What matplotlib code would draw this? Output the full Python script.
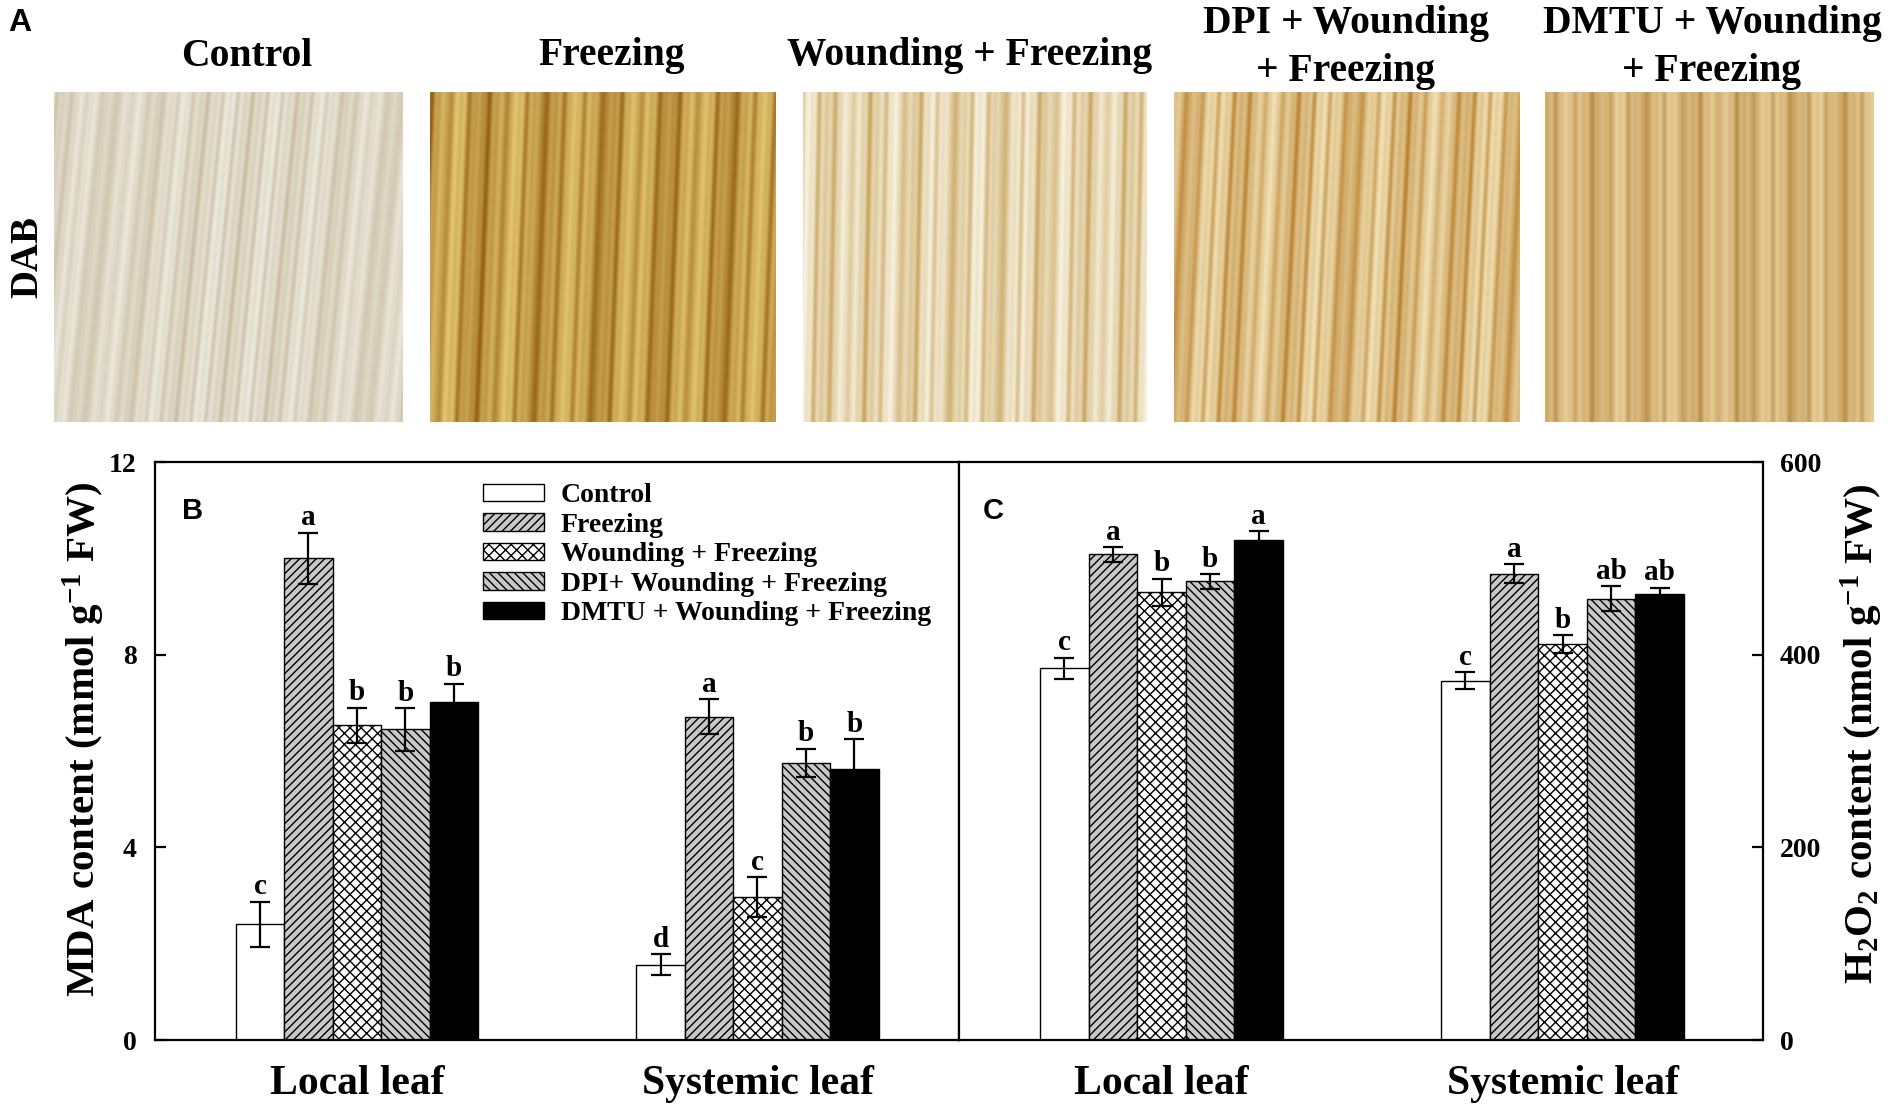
import numpy as np
import matplotlib
matplotlib.use("Agg")
import matplotlib.pyplot as plt

plt.rcParams['font.family'] = ['Liberation Serif', 'DejaVu Serif']
plt.rcParams['font.weight'] = 'bold'
plt.rcParams['mathtext.fontset'] = 'custom'
plt.rcParams['mathtext.rm'] = 'Liberation Serif:bold'
plt.rcParams['mathtext.bf'] = 'Liberation Serif:bold'
plt.rcParams['mathtext.default'] = 'bf'
plt.rcParams['hatch.linewidth'] = 1.0

# ---------------- data ----------------
groups = ["Local leaf", "Systemic leaf"]
treatments = ["Control", "Freezing", "Wounding + Freezing",
              "DPI+ Wounding + Freezing", "DMTU + Wounding + Freezing"]

mda_local = [2.40, 10.00, 6.53, 6.45, 7.01]
mda_local_err = [0.47, 0.53, 0.37, 0.44, 0.39]
mda_sys = [1.56, 6.71, 2.97, 5.75, 5.62]
mda_sys_err = [0.22, 0.36, 0.41, 0.30, 0.63]
mda_local_letters = ["c", "a", "b", "b", "b"]
mda_sys_letters = ["d", "a", "c", "b", "b"]

h2o2_local = [386, 504, 465, 476, 519]
h2o2_local_err = [11, 7.5, 14, 7.6, 9.3]
h2o2_sys = [373, 484, 411, 458, 463]
h2o2_sys_err = [9, 10, 9.3, 13, 6.7]
h2o2_local_letters = ["c", "a", "b", "b", "a"]
h2o2_sys_letters = ["c", "a", "b", "ab", "ab"]

photo_titles = ["Control", "Freezing", "Wounding + Freezing",
                "DPI + Wounding\n+ Freezing", "DMTU + Wounding\n+ Freezing"]

# ---------------- styles ----------------
fills = ["white", "#c8c8c8", "white", "#c8c8c8", "black"]
hatches = [None, "////", "xxx", "\\\\\\\\", None]

W, H = 1900, 1109
fig = plt.figure(figsize=(W / 100, H / 100), dpi=100)


def fx(px):
    return px / W


def fy(py):
    return 1 - py / H


# ---------------- panel A: photos ----------------
photo_x = [(54, 403), (430, 775), (803, 1147), (1174, 1520), (1545, 1874)]
title_cx = [247, 612, 970, 1346, 1712]
py0, py1 = 92, 422
light = [(236, 232, 220), (226, 196, 112), (246, 241, 222), (240, 224, 180), (232, 206, 152)]
dark = [(186, 170, 138), (150, 98, 22), (196, 156, 80), (186, 130, 48), (182, 136, 66)]
periods = [(15, 47), (19, 61), (17, 43), (16, 55), (18, 50)]
slopes = [0.10, 0.04, 0.02, 0.05, 0.0]
strength = [0.55, 0.9, 0.75, 0.85, 0.8]
for k, ((x0, x1), title) in enumerate(zip(photo_x, photo_titles)):
    axp = fig.add_axes([fx(x0), fy(py1), fx(x1 - x0), (py1 - py0) / H])
    hh, ww = py1 - py0, x1 - x0
    yy, xx = np.mgrid[0:hh, 0:ww]
    u = xx + slopes[k] * yy
    p1, p2 = periods[k]
    s1 = (0.5 * (1 + np.sin(2 * np.pi * u / p1 + k))) ** 4
    s2 = 0.5 * (1 + np.sin(2 * np.pi * u / p2 + 2 * k))
    s3 = 0.5 * (1 + np.sin(2 * np.pi * u / 7.3)) * 0.15
    t = np.clip(strength[k] * (0.55 * s1 + 0.45 * s2) + s3, 0, 1)
    lc = np.array(light[k]) / 255.0
    dc = np.array(dark[k]) / 255.0
    img = lc[None, None, :] * (1 - t[..., None]) + dc[None, None, :] * t[..., None]
    axp.imshow(img, aspect="auto", interpolation="bilinear")
    axp.axis("off")
    cx = title_cx[k]
    if "\n" in title:
        l1, l2 = title.split("\n")
        fig.text(fx(cx), fy(23), l1, ha="center", va="center", fontsize=28.5, fontweight="bold")
        fig.text(fx(cx), fy(71), l2, ha="center", va="center", fontsize=28.5, fontweight="bold")
    else:
        fig.text(fx(cx), fy(56), title, ha="center", va="center", fontsize=28.5, fontweight="bold")

fig.text(fx(8), fy(23), "A", ha="left", va="center", fontsize=23, fontweight="bold",
         family=["Liberation Sans", "DejaVu Sans"])
fig.text(fx(28), fy(257), "DAB", rotation=90, ha="center", va="center", fontsize=28, fontweight="bold")

# ---------------- panels B and C ----------------
ax_top, ax_bot = 462, 1040
axB = fig.add_axes([fx(155), fy(ax_bot), fx(959 - 155), (ax_bot - ax_top) / H])
axC = fig.add_axes([fx(959), fy(ax_bot), fx(1763 - 959), (ax_bot - ax_top) / H])

bw = 0.121
offsets = [(j - 2) * bw for j in range(5)]


def draw(ax, local, local_err, sysv, sys_err, l_letters, s_letters):
    handles = []
    for j in range(5):
        vals = [local[j], sysv[j]]
        errs = [local_err[j], sys_err[j]]
        xs = [i + offsets[j] for i in range(2)]
        b = ax.bar(xs, vals, width=bw, color=fills[j], edgecolor="black",
                   linewidth=1.0, hatch=hatches[j], label=treatments[j], zorder=2)
        ax.errorbar(xs, vals, yerr=errs, fmt="none", ecolor="black",
                    elinewidth=1.6, capsize=7, capthick=1.6, zorder=3)
        for x, v, e, let in zip(xs, vals, errs, [l_letters[j], s_letters[j]]):
            ax.annotate(let, (x, v + e), xytext=(0, 1), textcoords="offset points",
                        ha="center", va="bottom", fontsize=21, fontweight="bold")
        handles.append(b)
    ax.set_xticks([0, 1])
    ax.set_xticklabels(groups, fontsize=30, fontweight="bold")
    ax.tick_params(axis="x", length=0, pad=18)
    for s in ax.spines.values():
        s.set_linewidth(1.6)
    return handles


handles = draw(axB, mda_local, mda_local_err, mda_sys, mda_sys_err,
               mda_local_letters, mda_sys_letters)
draw(axC, h2o2_local, h2o2_local_err, h2o2_sys, h2o2_sys_err,
     h2o2_local_letters, h2o2_sys_letters)

axB.set_xlim(-0.504, 1.503)
axB.set_ylim(0, 12)
axB.set_yticks([0, 4, 8, 12])
axB.tick_params(axis="y", direction="in", length=8, width=1.6, labelsize=20, pad=13)
for lab in axB.get_yticklabels():
    lab.set_fontweight("bold")

axC.set_xlim(-0.505, 1.500)
axC.set_ylim(0, 600)
axC.set_yticks([0, 200, 400, 600])
axC.yaxis.tick_right()
axC.tick_params(axis="y", direction="in", length=8, width=1.6, labelsize=20, pad=12,
                left=False, right=True)
for lab in axC.get_yticklabels():
    lab.set_fontweight("bold")

axB.text(0.034, 0.915, "B", transform=axB.transAxes, fontsize=21, fontweight="bold",
         ha="left", va="center", family=["Liberation Sans", "DejaVu Sans"])
axC.text(0.030, 0.915, "C", transform=axC.transAxes, fontsize=21, fontweight="bold",
         ha="left", va="center", family=["Liberation Sans", "DejaVu Sans"])

fig.text(fx(84), fy(740), r"MDA content (mmol g$^{-1}$ FW)", rotation=90,
         ha="center", va="center", fontsize=29.5, fontweight="bold")
fig.text(fx(1862), fy(734), r"H$_2$O$_2$ content (nmol g$^{-1}$ FW)", rotation=90,
         ha="center", va="center", fontsize=29.5, fontweight="bold")

leg = axB.legend(handles=handles, loc="upper left", bbox_to_anchor=(0.408, 0.963),
                 frameon=False, fontsize=20, handlelength=2.2, handleheight=0.6,
                 labelspacing=0.16, handletextpad=0.6, borderpad=0, borderaxespad=0)
for t in leg.get_texts():
    t.set_fontweight("bold")

fig.savefig("out.png", dpi=100)
